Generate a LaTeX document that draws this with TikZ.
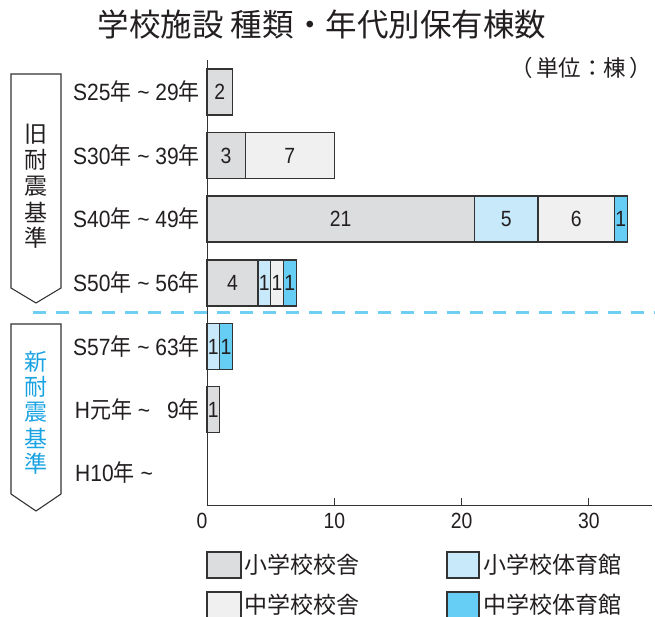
\documentclass[tikz,border=0pt]{standalone}
\usepackage{fontspec}
\usepackage{graphicx}
\setmainfont{Liberation Sans}
\newfontfamily\lat[FakeStretch=0.88]{Liberation Sans}
\newfontfamily\jp{Noto Sans CJK JP}
\definecolor{cA}{HTML}{DCDDDE}
\definecolor{cB}{HTML}{C8E9FA}
\definecolor{cC}{HTML}{F0F0F0}
\definecolor{cD}{HTML}{66CDF4}
\definecolor{ink}{HTML}{231F20}
\definecolor{edge}{HTML}{333333}
\definecolor{dashc}{HTML}{6ECFF2}
\definecolor{newc}{HTML}{1AA3E3}
\newcommand\ux{12.73}
\newcommand\barseg[6]{%
  \draw[seg,fill=#5] ({207+#3*\ux},{#2-23}) rectangle ({207+#4*\ux},{#2+23});
  \node[num] (#1) at ({207+(#3+#4)/2*\ux},#2) {#6};}
\newcommand\tall[1]{\scalebox{1}[1.12]{#1}}
\begin{document}
\begin{tikzpicture}[x=1pt,y=-1pt,
  seg/.style={draw=edge,line width=1.2pt},
  num/.style={text=ink,font=\lat\fontsize{22}{24}\selectfont,inner sep=0pt},
  cat/.style={text=ink,font=\fontsize{21}{24}\selectfont,anchor=east,inner sep=0pt},
  vtxt/.style={font=\jp\fontsize{23}{26}\selectfont,inner sep=0pt},
  leg/.style={text=ink,font=\jp\fontsize{23}{26}\selectfont,anchor=west,inner sep=0pt},
  legbox/.style={draw=edge,line width=1.2pt},
  axisline/.style={draw=edge,line width=1pt},
  era/.style={draw=edge,line width=1.1pt,fill=white}]
\useasboundingbox (0,0) rectangle (655,617);
% title
\node[text=ink,font=\jp\fontsize{31.5}{34}\selectfont,inner sep=0pt] (title) at (322,25) {学校施設 種類・年代別保有棟数};
\node[text=ink,font=\jp\fontsize{22.5}{26}\selectfont,anchor=east,inner sep=0pt] (unit) at (652,68) {（\hspace{3pt}単位：棟\hspace{3pt}）};
% era boxes
\draw[era] (11,74) -- (61,74) -- (61,288) -- (36,303) -- (11,288) -- cycle;
\draw[era] (11,324) -- (61,324) -- (61,494) -- (36,511) -- (11,494) -- cycle;
\foreach \c [count=\i] in {旧,耐,震,基,準}{
  \node[vtxt,text=ink] (o\i) at (36,{134+26*(\i-1)}) {\c};}
\foreach \c [count=\i] in {新,耐,震,基,準}{
  \node[vtxt,text=newc] (n\i) at (36,{361.5+25.5*(\i-1)}) {\c};}
% dashed separator
\coordinate (d1) at (33,312.5);
\coordinate (d2) at (655,312.5);
\draw[dashc,line width=3pt,dash pattern=on 13pt off 10pt] (d1) -- (d2);
% axes
\coordinate (ytop) at (207,60);
\coordinate (orig) at (207,505);
\coordinate (xend) at (652,505);
\draw[axisline] (ytop) -- (orig) -- (xend);
\foreach \k in {1,2,3}{
  \draw[axisline] ({207+\k*10*\ux},505) -- ({207+\k*10*\ux},498);}
\node[num] (t0) at (202,521) {0};
\foreach \k in {1,2,3}{
  \node[num] (t\k) at ({207+\k*10*\ux},521) {\number\numexpr\k*10\relax};}
% category labels
\node[cat] (c1) at (200,92) {\tall{S25{\jp 年} \textasciitilde{} 29{\jp 年}}};
\node[cat] (c2) at (200,155.5) {\tall{S30{\jp 年} \textasciitilde{} 39{\jp 年}}};
\node[cat] (c3) at (200,219) {\tall{S40{\jp 年} \textasciitilde{} 49{\jp 年}}};
\node[cat] (c4) at (200,283) {\tall{S50{\jp 年} \textasciitilde{} 56{\jp 年}}};
\node[cat] (c5) at (200,346.5) {\tall{S57{\jp 年} \textasciitilde{} 63{\jp 年}}};
\node[cat] (c6) at (200,409.5) {\tall{H{\jp 元年} \textasciitilde\hspace{17pt}9{\jp 年}}};
\node[cat,anchor=west] (c7) at (75,473) {\tall{H10{\jp 年} \textasciitilde}};
% bars
\barseg{b11}{92}{0}{2}{cA}{2}
\barseg{b21}{155.5}{0}{3}{cA}{3}
\barseg{b22}{155.5}{3}{10}{cC}{7}
\barseg{b31}{219}{0}{21}{cA}{21}
\barseg{b32}{219}{21}{26}{cB}{5}
\barseg{b33}{219}{26}{32}{cC}{6}
\barseg{b34}{219}{32}{33}{cD}{1}
\barseg{b41}{283}{0}{4}{cA}{4}
\barseg{b42}{283}{4}{5}{cB}{1}
\barseg{b43}{283}{5}{6}{cC}{1}
\barseg{b44}{283}{6}{7}{cD}{1}
\barseg{b51}{346.5}{0}{1}{cB}{1}
\barseg{b52}{346.5}{1}{2}{cD}{1}
\barseg{b61}{409.5}{0}{1}{cA}{1}
% legend
\draw[legbox,fill=cA] (207,552) rectangle (241,578);
\node[leg] (l1) at (244,565) {小学校校舎};
\draw[legbox,fill=cC] (207,592) rectangle (241,620);
\node[leg] (l2) at (244,605) {中学校校舎};
\draw[legbox,fill=cB] (447,552) rectangle (479,578);
\node[leg] (l3) at (483,565) {小学校体育館};
\draw[legbox,fill=cD] (447,592) rectangle (479,620);
\node[leg] (l4) at (483,605) {中学校体育館};
\end{tikzpicture}
\end{document}
